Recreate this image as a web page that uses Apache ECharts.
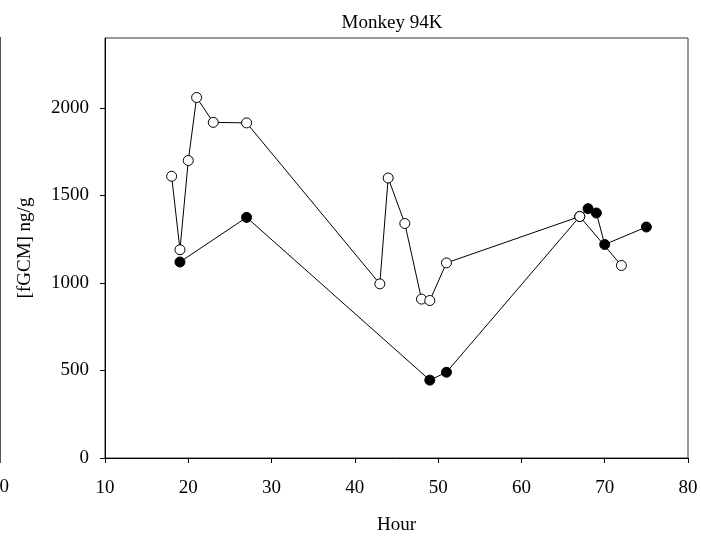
<!DOCTYPE html>
<html>
<head>
<meta charset="utf-8">
<script src="https://cdn.jsdelivr.net/npm/echarts@6/dist/echarts.min.js"></script>
<style>
html,body{margin:0;padding:0;background:#fff;}
#chart{width:701px;height:536px;}
</style>
</head>
<body>
<div id="chart"></div>
<script>
var titleText = "Monkey 94K";
var xName = "Hour";
var yName = "[fGCM] ng/g";
var yTickValues = [0, 500, 1000, 1500, 2000];

// open circles
var openHours = [18, 19, 20, 21, 23, 27, 43, 44, 46, 48, 49, 51, 67, 72];
var openValues = [1610, 1190, 1700, 2060, 1918, 1915, 995, 1600, 1340, 908, 900, 1115, 1380, 1100];

// filled circles
var filledHours = [19, 27, 49, 51, 67, 68, 69, 70, 75];
var filledValues = [1120, 1375, 445, 490, 1380, 1425, 1400, 1220, 1320];

function pairs(xs, ys) {
  return xs.map(function (x, i) { return [x, ys[i]]; });
}

var serif = "Liberation Serif";
var fs = 19;
var chart = echarts.init(document.getElementById('chart'), null, {renderer: 'canvas'});
chart.setOption({
  animation: false,
  backgroundColor: '#fff',
  title: {
    text: titleText,
    left: 387, top: 9, textAlign: 'center',
    textStyle: {fontFamily: serif, fontSize: fs, fontWeight: 'normal', color: '#000'}
  },
  grid: {
    left: 105, right: 13, top: 38, bottom: 78,
    outerBoundsMode: 'none', containLabel: false,
    show: true, borderColor: '#333', borderWidth: 1, backgroundColor: 'transparent'
  },
  xAxis: {
    type: 'value', min: 10, max: 80, interval: 10,
    name: xName, nameLocation: 'middle', nameGap: 58,
    nameTextStyle: {fontFamily: serif, fontSize: fs, color: '#000'},
    axisLine: {onZero: false, lineStyle: {color: '#000', width: 1}},
    axisTick: {show: true, inside: false, length: 5, lineStyle: {color: '#000'}},
    axisLabel: {fontFamily: serif, fontSize: fs, color: '#000', margin: 21,
      formatter: function (v) { return String(v); }},
    splitLine: {show: false}
  },
  yAxis: {
    type: 'value', min: 0, max: 2400, interval: 500,
    name: yName, nameLocation: 'middle', nameGap: 70, nameRotate: 90,
    nameTextStyle: {fontFamily: serif, fontSize: fs, color: '#000'},
    axisLine: {show: true, lineStyle: {color: '#000', width: 1}},
    axisTick: {show: true, inside: false, length: 5, lineStyle: {color: '#000'}, customValues: yTickValues},
    axisLabel: {fontFamily: serif, fontSize: fs, color: '#000', margin: 16, customValues: yTickValues,
      formatter: function (v) { return String(v); }},
    splitLine: {show: false}
  },
  series: [
    {
      type: 'line', data: pairs(filledHours, filledValues),
      symbol: 'circle', symbolSize: 10, showSymbol: true,
      lineStyle: {color: '#000', width: 1},
      itemStyle: {color: '#000', borderColor: '#000', borderWidth: 1},
      z: 2
    },
    {
      type: 'line', data: pairs(openHours, openValues),
      symbol: 'circle', symbolSize: 10, showSymbol: true,
      lineStyle: {color: '#000', width: 1},
      itemStyle: {color: '#fff', borderColor: '#000', borderWidth: 1},
      z: 3
    }
  ],
  graphic: [
    {type: 'line', shape: {x1: 0.5, y1: 37, x2: 0.5, y2: 463}, style: {stroke: '#555', lineWidth: 1}},
    {type: 'text', x: 9, y: 487, style: {text: '80', font: '19px "Liberation Serif"', fill: '#000', textAlign: 'right', textVerticalAlign: 'middle'}}
  ]
});
</script>
</body>
</html>
